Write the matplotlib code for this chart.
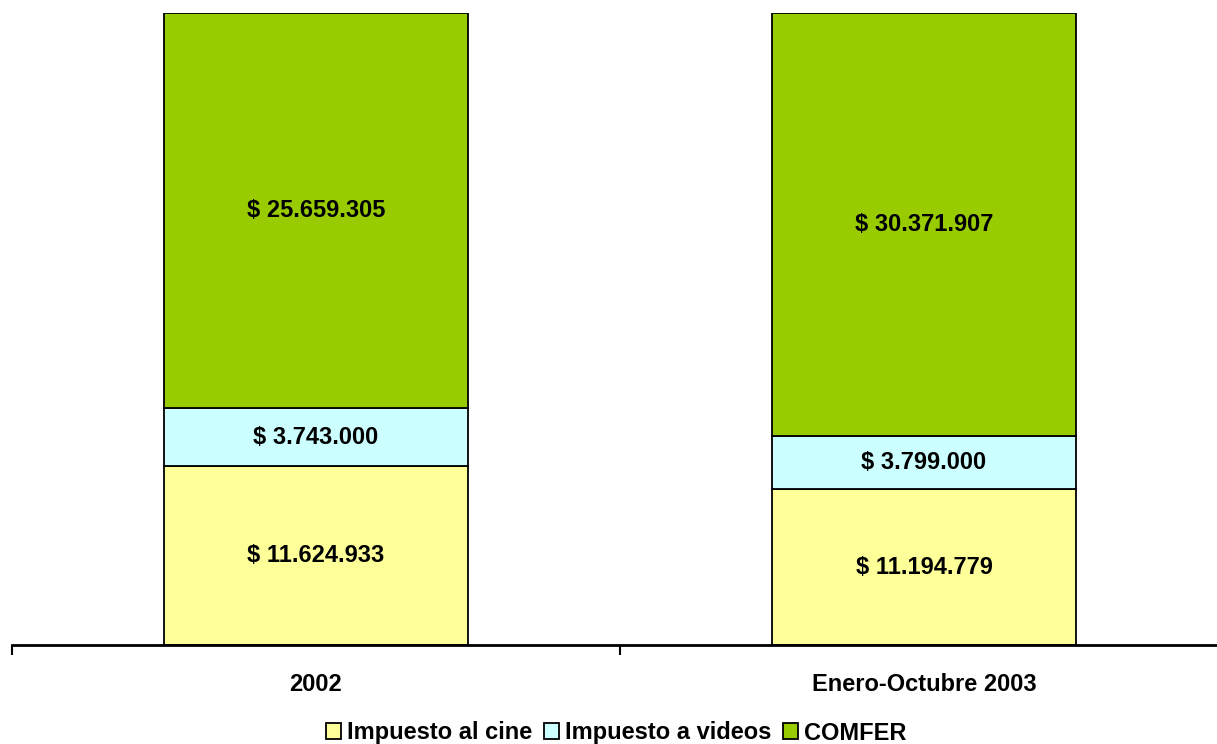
import matplotlib
matplotlib.use("Agg")
import matplotlib.pyplot as plt
import numpy as np
from matplotlib.patches import Patch

categories = ["2002", "Enero-Octubre 2003"]
series_names = ["Impuesto al cine", "Impuesto a videos", "COMFER"]
cine = [11624933, 11194779]
videos = [3743000, 3799000]
comfer = [25659305, 30371907]
colors = ["#FFFF99", "#CCFFFF", "#99CC00"]

def fmt(v):
    return "$ " + f"{v:,}".replace(",", ".")

plt.rcParams['font.family'] = ['Liberation Sans', 'DejaVu Sans']

FS = 17
W, H = 1217, 744
fig = plt.figure(figsize=(W/100, H/100), dpi=100)
left = 12/W
right = 1228/W
bottom = 1 - 645/H
top = 1 - 13/H
ax = fig.add_axes([left, bottom, right-left, top-bottom])

data = np.array([cine, videos, comfer], dtype=float)
totals = data.sum(axis=0)
shares = data / totals
x = np.arange(len(categories))
base = np.zeros(len(categories))
for i in range(3):
    ax.bar(x, shares[i], bottom=base, width=0.5, color=colors[i],
           edgecolor="black", linewidth=1.3, zorder=2)
    for j in range(len(categories)):
        ax.text(x[j], base[j] + shares[i][j]/2, fmt(int(data[i][j])),
                ha="center", va="center", fontsize=FS, fontweight="bold",
                zorder=3)
    base += shares[i]

ax.set_xlim(-0.5, len(categories) - 0.5)
ax.set_ylim(0, 1)
for s in ["top", "right", "left"]:
    ax.spines[s].set_visible(False)
ax.spines["bottom"].set_linewidth(2)
ax.spines["bottom"].set_zorder(4)
ax.set_yticks([])
ax.set_xticks([-0.5, 0.5, 1.5])
ax.set_xticklabels([])
ax.set_xticks(x, minor=True)
ax.set_xticklabels(categories, minor=True, fontsize=FS, fontweight="bold")
ax.tick_params(axis="x", which="major", length=7, width=1.5, direction="out")
ax.tick_params(axis="x", which="minor", length=0, pad=20)

handles = [Patch(facecolor=c, edgecolor="black", linewidth=1.3) for c in colors]
fig.legend(handles, series_names, loc="center", bbox_to_anchor=(616/W, 1 - 733/H),
           ncol=3, frameon=False,
           prop={"weight": "bold", "size": FS},
           handlelength=0.64, handleheight=0.64, handletextpad=0.25,
           columnspacing=0.5, borderpad=0)

fig.savefig("out.png", dpi=100)
